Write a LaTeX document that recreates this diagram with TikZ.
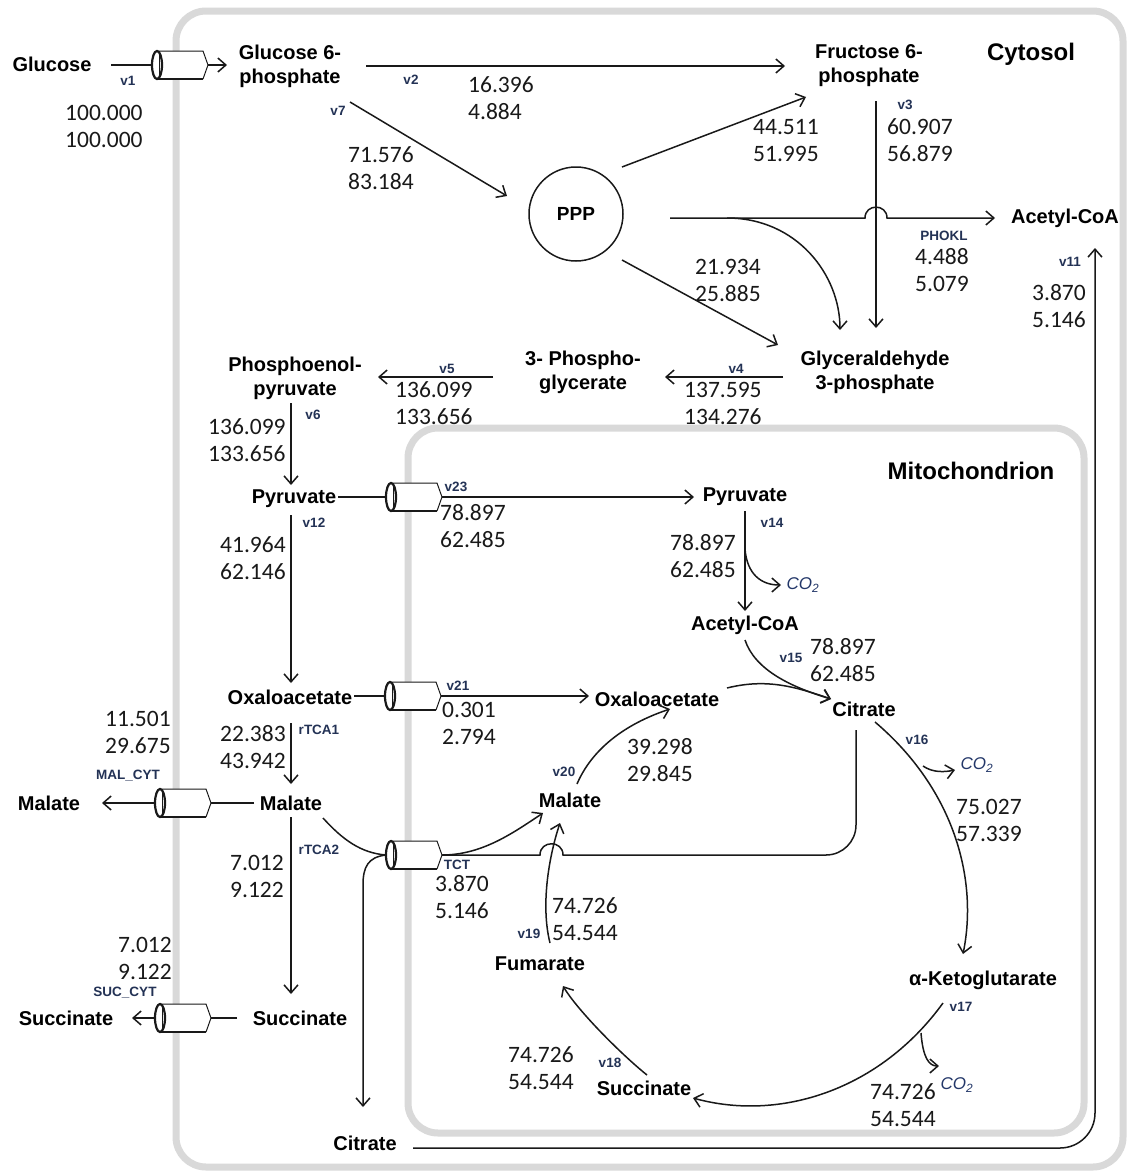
\documentclass[tikz,border=0pt]{standalone}
\usepackage{fontspec}
\usetikzlibrary{arrows.meta,calc}
\newfontfamily\sansf{Liberation Sans}
\newfontfamily\numf{Carlito}
\definecolor{lblc}{RGB}{35,50,85}
\definecolor{cotwo}{RGB}{35,55,105}
\definecolor{boxgray}{RGB}{217,217,217}
\definecolor{inkc}{RGB}{25,25,25}
\tikzset{
 met/.style={font=\sansf\bfseries\fontsize{20}{24}\selectfont, align=center, inner sep=0pt, text=black},
 compt/.style={font=\sansf\bfseries\fontsize{24}{28}\selectfont, inner sep=0pt, text=black},
 lbl/.style={font=\sansf\bfseries\fontsize{13.5}{15}\selectfont, text=lblc, inner sep=0pt},
 num/.style={font=\numf\fontsize{23.5}{27}\selectfont, align=left, inner sep=0pt, anchor=west, text=inkc},
 co2/.style={font=\sansf\itshape\fontsize{17}{20}\selectfont, text=cotwo, inner sep=0pt},
 ln/.style={draw=inkc, line width=1.5pt},
 arr/.style={ln, -{Straight Barb[length=8pt,width=14pt]}},
 comp/.style={draw=boxgray, line width=7pt, rounded corners=30pt},
 cyl/.pic={
  \fill[white] (0,-14) -- (46,-14) -- (51,0) -- (46,14) -- (0,14) -- cycle;
  \draw[draw=inkc, line width=1pt] (0,-14) -- (46,-14) -- (51,0) -- (46,14);
  \draw[draw=inkc, line width=2.4pt] (0,14) -- (46,14);
  \draw[draw=inkc, line width=2.2pt, fill=white] (0,0) ellipse [x radius=5, y radius=14];
  \draw[draw=inkc, line width=1pt] (2.5,-12) -- (2.5,12);
  \coordinate (-l) at (-5,0);
  \coordinate (-r) at (51,0);
 }
}
\begin{document}
\begin{tikzpicture}[x=1pt,y=-1pt]
\useasboundingbox (0,0) rectangle (1127,1173);
\fill[white] (0,0) rectangle (1127,1173);
% compartments
\draw[comp] (176,11) rectangle (1123,1167);
\draw[comp] (408,428) rectangle (1084,1133);
% metabolites
\node[met] (glc) at (52,64) {Glucose};
\node[met] (g6p) at (290,66) {Glucose 6-\\phosphate};
\node[met] (f6p) at (869,66) {Fructose 6-\\phosphate};
\node[compt] (cyto) at (1031,54) {Cytosol};
\node[met, draw=inkc, line width=1.5pt, circle, minimum size=94pt, font=\sansf\bfseries\fontsize{19}{22}\selectfont] (ppp) at (576,214) {PPP};
\node[met] (acc) at (1065,218) {Acetyl-CoA};
\node[met] (gap) at (875,372) {Glyceraldehyde\\3-phosphate};
\node[met] (pg) at (583,372) {3- Phospho-\\glycerate};
\node[met] (pep) at (295,378) {Phosphoenol-\\pyruvate};
\node[met] (pyrc) at (294,499) {Pyruvate};
\node[met] (pyrm) at (745,497) {Pyruvate};
\node[met] (accm) at (745,625) {Acetyl-CoA};
\node[met] (citm) at (864,709) {Citrate};
\node[met] (oaac) at (290,697) {Oxaloacetate};
\node[met] (oaam) at (657,699) {Oxaloacetate};
\node[met] (malc) at (291,803) {Malate};
\node[met] (male) at (49,803) {Malate};
\node[met] (malm) at (570,800) {Malate};
\node[met] (succ) at (300,1018) {Succinate};
\node[met] (suce) at (66,1018) {Succinate};
\node[met] (fum) at (540,964) {Fumarate};
\node[met] (sucm) at (644,1088) {Succinate};
\node[met] (akg) at (983,980) {α-Ketoglutarate};
\node[met] (citc) at (365,1143) {Citrate};
\node[compt] (mito) at (971,471) {Mitochondrion};
% CO2
\node[co2] (co2a) at (803,585) {CO\textsubscript{2}};
\node[co2] (co2b) at (977,765) {CO\textsubscript{2}};
\node[co2] (co2c) at (957,1085) {CO\textsubscript{2}};
% reaction labels
\node[lbl] (l1) at (128,81) {v1};
\node[lbl] (l2) at (411,80) {v2};
\node[lbl] (l7) at (338,111) {v7};
\node[lbl] (l3) at (905,105) {v3};
\node[lbl] (lph) at (944,236) {PHOKL};
\node[lbl] (l11) at (1070,262) {v11};
\node[lbl] (l4) at (736,369) {v4};
\node[lbl] (l5) at (447,369) {v5};
\node[lbl] (l6) at (313,415) {v6};
\node[lbl] (l23) at (456,487) {v23};
\node[lbl] (l14) at (772,523) {v14};
\node[lbl] (l12) at (314,523) {v12};
\node[lbl] (l15) at (791,658) {v15};
\node[lbl] (l21) at (458,686) {v21};
\node[lbl] (lr1) at (319,730) {rTCA1};
\node[lbl] (lmc) at (128,776) {MAL\_CYT};
\node[lbl] (l20) at (564,772) {v20};
\node[lbl] (l16) at (917,740) {v16};
\node[lbl] (lr2) at (319,850) {rTCA2};
\node[lbl] (ltct) at (457,865) {TCT};
\node[lbl] (l19) at (529,934) {v19};
\node[lbl] (lsc) at (125,993) {SUC\_CYT};
\node[lbl] (l18) at (610,1063) {v18};
\node[lbl] (l17) at (961,1007) {v17};
% flux values
\node[num] (n1) at (65,126.5) {100.000\\100.000};
\node[num] (n2) at (468,98.5) {16.396\\4.884};
\node[num] (n7) at (348,168.5) {71.576\\83.184};
\node[num] (npf) at (753,140.5) {44.511\\51.995};
\node[num] (n3) at (887,140) {60.907\\56.879};
\node[num] (nph) at (915,270) {4.488\\5.079};
\node[num] (n11) at (1032,306.5) {3.870\\5.146};
\node[num] (npg) at (695,280) {21.934\\25.885};
\node[num] (n4) at (684,403) {137.595\\134.276};
\node[num] (n5) at (395,403) {136.099\\133.656};
\node[num] (n6) at (208,440) {136.099\\133.656};
\node[num] (n23) at (440,526.5) {78.897\\62.485};
\node[num] (n14) at (670,556) {78.897\\62.485};
\node[num] (n15) at (810,660) {78.897\\62.485};
\node[num] (n12) at (220,558.5) {41.964\\62.146};
\node[num] (n21) at (442,723.5) {0.301\\2.794};
\node[num] (n20) at (627,760) {39.298\\29.845};
\node[num] (nmc) at (105,732.5) {11.501\\29.675};
\node[num] (nr1) at (220,747) {22.383\\43.942};
\node[num] (n16) at (956,820) {75.027\\57.339};
\node[num] (nr2) at (230,876) {7.012\\9.122};
\node[num] (nsc) at (118,958) {7.012\\9.122};
\node[num] (ntct) at (435,897) {3.870\\5.146};
\node[num] (n19) at (552,919.5) {74.726\\54.544};
\node[num] (n18) at (508,1068.5) {74.726\\54.544};
\node[num] (n17) at (870,1105) {74.726\\54.544};
% transporters
\pic (t1) at (157,65) {cyl};
\pic (t23) at (391,497) {cyl};
\pic (t21) at (390,696) {cyl};
\pic (tm) at (160,803) {cyl};
\pic (ts) at (160,1018) {cyl};
\pic (tt) at (391,855) {cyl};
% glycolysis / PPP
\draw[ln] ($(glc)+(59,1)$) -- (t1-l);
\draw[arr] (t1-r) -- ($(g6p)+(-63,-1)$);
\draw[arr] ($(g6p)+(76,0)$) -- ($(f6p)+(-84,0)$);
\draw[arr] ($(g6p)+(60,36)$) -- ($(ppp)+(-69,-18)$);
\draw[arr] ($(ppp)+(46,-47)$) -- ($(f6p)+(-63,31)$);
\draw[arr] ($(ppp)+(46,46)$) -- ($(gap)+(-97,-27)$);
\draw[arr] ($(ppp)+(94,4)$) -- ($(f6p|-ppp)+(-4,4)$) .. controls +(0,-14.5) and +(0,-14.5) .. ++(22,0) -- ($(acc)+(-70,0)$);
\draw[arr] ($(ppp)+(151,4)$) .. controls +(70,0) and +(0,-55) .. ($(gap)+(-35,-42)$);
\draw[arr] ($(f6p)+(7,35)$) -- ($(gap)+(1,-44)$);
\draw[arr] ($(gap)+(-92,5)$) -- ($(pg)+(82,5)$);
\draw[arr] ($(pg)+(-90,5)$) -- ($(pep)+(83,-1)$);
\draw[arr] ($(pep)+(-4,25)$) -- ($(pyrc)+(-3,-14)$);
\draw[arr] ($(pyrc)+(-3,16)$) -- ($(oaac)+(1,-14)$);
\draw[arr] ($(oaac)+(1,26)$) -- ($(malc)+(0,-19)$);
\draw[arr] ($(malc)+(0,14)$) -- ($(succ)+(-9,-24)$);
% exports
\draw[ln] ($(malc)+(-37,0)$) -- (tm-r);
\draw[arr] (tm-l) -- ($(male)+(53,0)$);
\draw[ln] ($(succ)+(-63,0)$) -- (ts-r);
\draw[arr] (ts-l) -- ($(suce)+(66,0)$);
% mitochondrial import
\draw[ln] ($(pyrc)+(44,-2)$) -- (t23-l);
\draw[arr] (t23-r) -- ($(pyrm)+(-51,0)$);
\draw[ln] ($(oaac)+(64,-1)$) -- (t21-l);
\draw[arr] (t21-r) -- ($(oaam)+(-68,-3)$);
% TCA
\draw[arr] ($(pyrm)+(0,14)$) -- ($(accm)+(0,-14)$);
\draw[arr] ($(pyrm)+(0,52)$) .. controls +(2,25) and +(-20,0) .. ($(co2a)+(-22,0)$);
\draw[arr] ($(accm)+(0,15)$) .. controls +(10,30) and +(-40,-12) .. ($(citm)+(-33,-10)$);
\draw[arr] ($(oaam)+(70,-11)$) .. controls +(40,-10) and +(-35,-12) .. ($(citm)+(-33,-10)$);
\draw[arr] ($(malm)+(7,-16)$) .. controls +(15,-35) and +(-45,15) .. ($(oaam)+(13,10)$);
\draw[arr] ($(citm)+(11,13)$) .. controls +(80,68) and +(15,-74) .. ($(akg)+(-20,-26)$);
\draw[arr] ($(citm)+(59,57)$) .. controls +(10,7) and +(-10,2) .. ($(co2b)+(-22,5)$);
\draw[arr] ($(akg)+(-40,23)$) .. controls +(-63,87) and +(87,24) .. ($(sucm)+(49,10)$);
\draw[arr] ($(akg)+(-62,53)$) .. controls +(2,25) and +(-10,0) .. ($(co2c)+(-18,-19)$);
\draw[arr] ($(sucm)+(3,-13)$) .. controls +(-25,-20) and +(15,25) .. ($(fum)+(23,22)$);
\draw[arr] ($(fum)+(10,-21)$) .. controls +(-10,-40) and +(-10,30) .. ($(malm)+(-10,23)$);
% TCT antiport
\draw[ln] ($(malc)+(32,15)$) .. controls +(20,22) and +(-25,-2) .. (tt-l);
\draw[arr] (tt-l) .. controls +(-18,2) and +(0,-18) .. ($(citc)+(-2,-258)$) -- ($(citc)+(-2,-36)$);
\draw[arr] (tt-r) .. controls +(40,0) and +(-30,20) .. ($(malm)+(-27,13)$);
\draw[ln] ($(citm)+(-8,21)$) -- ($(citm)+(-8,116)$) .. controls +(0,16.6) and +(16.6,0) .. ($(citm)+(-38,146)$) -- ($(fum|-tt-r)+(23,0)$) .. controls +(0,-15) and +(0,-15) .. ++(-23,0) -- (tt-r);
% citrate to cytosolic acetyl-CoA
\draw[arr, rounded corners=35pt] ($(citc)+(48,5)$) -| ($(acc)+(30,30)$);
\end{tikzpicture}
\end{document}
